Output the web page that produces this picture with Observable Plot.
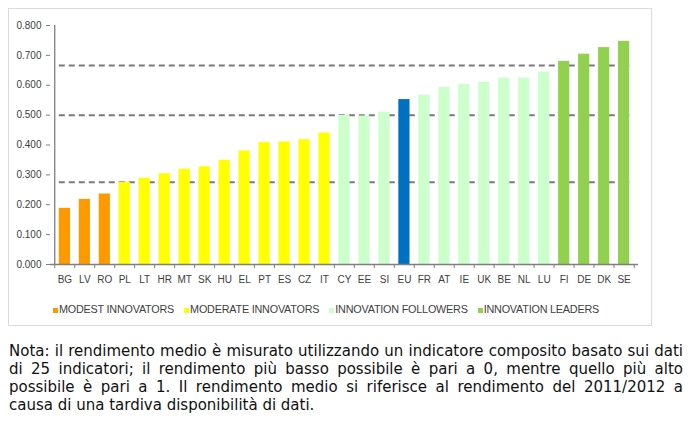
<!DOCTYPE html>
<html>
<head>
<meta charset="utf-8">
<script src="https://cdn.jsdelivr.net/npm/d3@7"></script>
<script src="https://cdn.jsdelivr.net/npm/@observablehq/plot@0.6"></script>
<style>
  html, body { margin: 0; padding: 0; background: #fff; }
  body { width: 693px; height: 427px; position: relative; overflow: hidden; }
  #box { position: absolute; left: 8px; top: 8px; width: 642px; height: 316px; border: 1px solid #dadada; }
  #chart { position: absolute; left: 0; top: 0; }
  #legend { position: absolute; left: 4px; width: 644px; top: 303px; display: flex; justify-content: center; gap: 10px;
    font-family: "Liberation Sans", Arial, sans-serif; font-size: 10.8px; color: #404040; letter-spacing: -0.2px; }
  #legend .item { display: flex; align-items: baseline; }
  #legend .sw { display: inline-block; width: 5px; height: 5px; margin-right: 1px; }
  #caption { position: absolute; left: 9px; top: 342px; width: 674px; font-family: "DejaVu Sans", Verdana, sans-serif;
    font-size: 15px; line-height: 18px; color: #111; }
  #caption div { text-align: justify; text-align-last: justify; }
  #caption div.last { text-align-last: left; }
</style>
</head>
<body>
<div id="box"></div>
<div id="chart"></div>
<div id="legend"></div>
<div id="caption"></div>
<script>
const countries = ["BG","LV","RO","PL","LT","HR","MT","SK","HU","EL","PT","ES","CZ","IT",
                   "CY","EE","SI","EU","FR","AT","IE","UK","BE","NL","LU","FI","DE","DK","SE"];
const values = [0.188,0.218,0.236,0.275,0.289,0.304,0.319,0.327,0.349,0.380,0.408,0.410,0.418,0.440,
                0.499,0.497,0.510,0.552,0.567,0.593,0.603,0.610,0.624,0.624,0.644,0.680,0.704,0.726,0.747];
const groups = ["M","M","M","D","D","D","D","D","D","D","D","D","D","D",
                "F","F","F","EU","F","F","F","F","F","F","F","L","L","L","L"];
const groupKeys = ["M","D","F","L","EU"];
const groupNames = ["MODEST INNOVATORS","MODERATE INNOVATORS","INNOVATION FOLLOWERS","INNOVATION LEADERS"];
const groupColors = ["#FF9900","#FFFF00","#CCFFCC","#92D050","#0070C0"];
const thresholds = [0.275, 0.5, 0.666];
const yTicks = [0, 0.1, 0.2, 0.3, 0.4, 0.5, 0.6, 0.7, 0.8];
const captionLines = [
  "Nota: il rendimento medio è misurato utilizzando un indicatore composito basato sui dati",
  "di 25 indicatori; il rendimento più basso possibile è pari a 0, mentre quello più alto",
  "possibile è pari a 1. Il rendimento medio si riferisce al rendimento del 2011/2012 a",
  "causa di una tardiva disponibilità di dati."
];

const data = countries.map((c, i) => ({country: c, value: values[i], group: groups[i]}));

const W = 660, H = 290, ML = 50, MR = 22, MT = 25, MB = 26;
const step = (W - ML - MR) / countries.length;

const chart = Plot.plot({
  width: W, height: H,
  marginLeft: ML, marginRight: MR, marginTop: MT, marginBottom: MB,
  style: {fontFamily: "'Liberation Sans', Arial, sans-serif", fontSize: "10px", color: "#404040", background: "transparent", overflow: "visible"},
  x: {domain: countries, padding: 0.44, round: false, axis: null, label: null},
  y: {domain: [0, 0.8], label: null, axis: null},
  color: {domain: groupKeys, range: groupColors},
  marks: [
    Plot.ruleY(thresholds, {y: d => d, x1: () => countries[0], x2: () => countries[countries.length - 1],
      stroke: "#7a7a7a", strokeWidth: 2, strokeDasharray: "6,4"}),
    Plot.barY(data, {x: "country", y: "value", fill: "group"}),
    Plot.ruleY([0], {stroke: "#7f7f7f", strokeWidth: 1.3}),
    Plot.ruleX(countries.slice(0, 1), {x: d => d, y1: 0, y2: 0.8, dx: -step / 2, stroke: "#7f7f7f", strokeWidth: 1.3}),
    Plot.ruleX(countries, {x: d => d, y1: 0, y2: 0, insetBottom: -4, dx: -step / 2, stroke: "#7f7f7f"}),
    Plot.ruleX(countries.slice(-1), {x: d => d, y1: 0, y2: 0, insetBottom: -4, dx: step / 2, stroke: "#7f7f7f"}),
    Plot.axisY({ticks: yTicks, tickFormat: d3.format(".3f"), tickSize: 4, tickPadding: 5, stroke: "#7f7f7f", fill: "#404040", label: null}),
    Plot.axisX({tickSize: 0, tickPadding: 11, fill: "#404040", label: null})
  ]
});
document.getElementById("chart").appendChild(chart);

const legend = document.getElementById("legend");
groupNames.forEach((name, i) => {
  const item = document.createElement("div");
  item.className = "item";
  const sw = document.createElement("span");
  sw.className = "sw";
  sw.style.background = groupColors[i];
  item.appendChild(sw);
  item.appendChild(document.createTextNode(name));
  legend.appendChild(item);
});

const cap = document.getElementById("caption");
captionLines.forEach((t, i) => {
  const d = document.createElement("div");
  d.textContent = t;
  if (i === captionLines.length - 1) d.className = "last";
  cap.appendChild(d);
});
</script>
</body>
</html>
